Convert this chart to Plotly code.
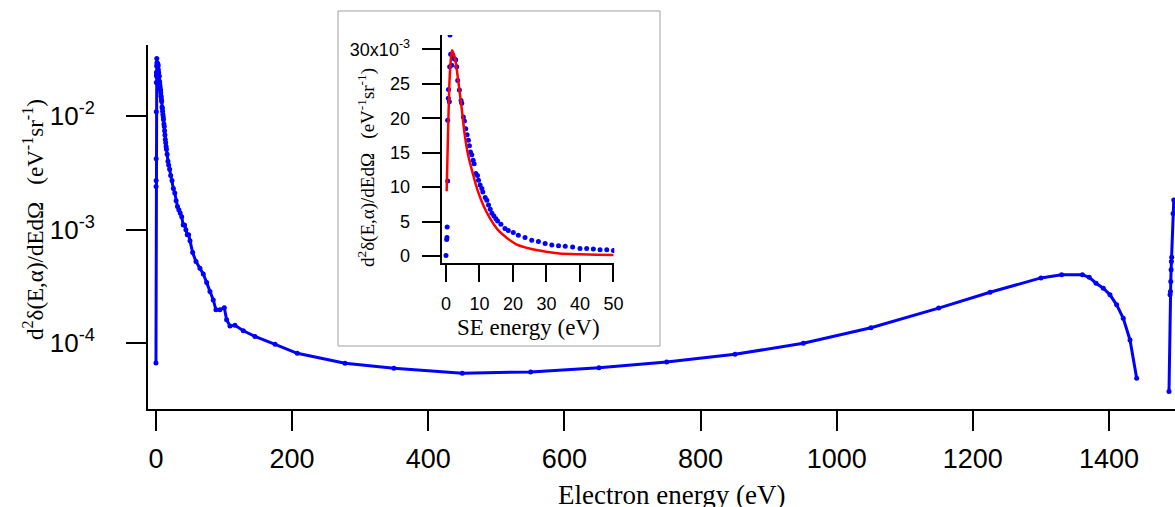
import plotly.graph_objects as go

# ---- Secondary-electron region (0-50 eV), values in units of 1e-3 eV^-1 sr^-1
se_energy = [0.0, 0.2, 0.3, 0.35, 0.5, 0.5, 0.7, 0.75, 1.0, 1.1, 1.2, 1.4, 1.7, 2.0, 2.4, 2.9,
             3.2, 3.5, 4.0, 4.5, 4.7, 5.2, 5.5, 5.9, 6.3, 6.7, 7.0, 7.3, 7.7, 8.1, 8.4,
             8.9, 9.4, 9.7, 10.2, 10.7, 11.0, 11.7, 12.2, 12.7, 13.2, 13.7, 14.3, 14.9,
             15.4, 16.4, 17.6, 18.6, 20.1, 21.6, 23.6, 25.6, 27.6, 29.6, 31.6, 33.6,
             35.6, 37.8, 40.0, 42.0, 44.0, 46.0, 48.0, 50.0]
se_value = [0.067, 2.4, 2.7, 4.2, 10.9, 19.7, 22.9, 24.2, 22.4, 27.5, 32.1, 29.3, 27.7, 29.2,
            28.7, 28.5, 27.5, 25.5, 24.1, 22.6, 22.2, 20.2, 19.6, 18.5, 17.6, 16.8, 16.0,
            15.1, 14.7, 13.9, 13.4, 12.0, 11.7, 11.0, 10.3, 9.8, 9.3, 8.5, 8.1, 7.4, 6.8,
            6.2, 5.8, 5.4, 5.1, 4.6, 4.0, 3.7, 3.4, 3.0, 2.7, 2.3, 2.1, 1.8, 1.6, 1.5,
            1.4, 1.3, 1.1, 1.1, 1.0, 0.9, 0.9, 0.8]

# ---- Fit curve shown in the inset (units of 1e-3)
fit_energy = [0.2, 0.6, 1.0, 1.4, 1.8, 2.7, 3.7, 4.7, 5.6, 6.6, 8.1, 9.6, 11.1, 13.1, 15.5,
              18.0, 21.0, 24.9, 29.9, 33.8, 40.0, 45.0, 50.0]
fit_value = [9.4, 17.6, 24.8, 28.3, 29.9, 28.7, 25.3, 21.4, 17.6, 14.7, 11.8, 9.3, 7.4, 5.5,
             3.8, 2.7, 1.7, 1.1, 0.63, 0.38, 0.26, 0.2, 0.15]

# ---- Higher-energy part of the spectrum (eV^-1 sr^-1)
hi_energy = [53.9, 58.8, 64.6, 69.5, 74.5, 79.3, 84.2, 88.1, 94.0, 100.4, 103.8, 108.7,
             116.0, 128.3, 145.4, 175.0, 207.6, 277.7, 349.6, 450.0, 550.4, 650.8, 750.2,
             850.6, 951.0, 1050.4, 1149.8, 1225.2, 1300.0, 1330.5, 1361.0, 1371.0, 1381.0,
             1391.7, 1401.5, 1411.3, 1421.0, 1430.9, 1440.7]
hi_value = [6.28e-4, 5.24e-4, 4.57e-4, 4.07e-4, 3.42e-4, 2.85e-4, 2.41e-4, 1.97e-4, 1.97e-4,
            2.06e-4, 1.61e-4, 1.42e-4, 1.44e-4, 1.29e-4, 1.15e-4, 9.8e-5, 8.17e-5, 6.68e-5,
            6.04e-5, 5.46e-5, 5.6e-5, 6.1e-5, 6.86e-5, 8.0e-5, 1.0e-4, 1.37e-4, 2.04e-4,
            2.81e-4, 3.76e-4, 4.0e-4, 4.0e-4, 3.81e-4, 3.38e-4, 3.05e-4, 2.67e-4, 2.18e-4,
            1.66e-4, 1.07e-4, 4.93e-5]

# ---- Elastic-peak onset at the right edge
el_energy = [1488.2, 1489.7, 1490.3, 1490.8, 1491.3, 1491.7, 1492.2, 1494.2, 1495.2]
el_value = [3.76e-5, 2.67e-4, 2.85e-4, 3.49e-4, 4.43e-4, 5.24e-4, 5.71e-4, 1.39e-3, 1.82e-3]

x_ticks = [0, 200, 400, 600, 800, 1000, 1200, 1400]
y_ticks = [1e-4, 1e-3, 1e-2]
y_ticktext = ["10<sup>-4</sup>", "10<sup>-3</sup>", "10<sup>-2</sup>"]
inset_x_ticks = [0, 10, 20, 30, 40, 50]
inset_y_ticks = [0, 5, 10, 15, 20, 25, 30]
inset_y_ticktext = ["0", "5", "10", "15", "20", "25", "30x10<sup>-3</sup>"]

BLUE = "#0000ff"
RED = "#ff0000"
SANS = "Liberation Sans, Arial, sans-serif"
SERIF = "Liberation Serif, Times New Roman, serif"

main_E = se_energy + hi_energy
main_V = [v * 1e-3 for v in se_value] + hi_value

fig = go.Figure()
fig.add_trace(go.Scatter(x=main_E, y=main_V, mode="lines+markers",
                         line=dict(color=BLUE, width=3), marker=dict(color=BLUE, size=5),
                         xaxis="x", yaxis="y", showlegend=False))
fig.add_trace(go.Scatter(x=el_energy, y=el_value, mode="lines+markers",
                         line=dict(color=BLUE, width=3), marker=dict(color=BLUE, size=5),
                         xaxis="x", yaxis="y", showlegend=False))
fig.add_trace(go.Scatter(x=se_energy, y=se_value, mode="markers",
                         marker=dict(color=BLUE, size=5),
                         xaxis="x2", yaxis="y2", showlegend=False))
fig.add_trace(go.Scatter(x=fit_energy, y=fit_value, mode="lines",
                         line=dict(color=RED, width=2.5, shape="spline", smoothing=0.6),
                         xaxis="x2", yaxis="y2", showlegend=False))

W, H = 1175, 507
L, R, T, B = 148, 0, 10, 98
pw, ph = W - L - R, H - T - B


def px(xp):
    return (xp - L) / pw


def py(yp):
    return (H - B - yp) / ph


common = dict(showline=True, linecolor="black", linewidth=2, showgrid=False,
              zeroline=False, ticks="outside", tickwidth=2, tickcolor="black",
              automargin=False)

fig.update_layout(
    width=W, height=H,
    margin=dict(l=L, r=R, t=T, b=B, pad=0, autoexpand=False),
    paper_bgcolor="white", plot_bgcolor="rgba(0,0,0,0)",
    showlegend=False,
    xaxis=dict(domain=[0, 1], range=[-11.7, 1497], anchor="y", ticklen=20,
               tickvals=x_ticks, ticklabelstandoff=5,
               tickfont=dict(family=SANS, size=27, color="black"), **common),
    yaxis=dict(domain=[0, py(45)], type="log", range=[-4.578, -1.3755], anchor="x",
               ticklen=20, tickvals=y_ticks, ticktext=y_ticktext, ticklabelstandoff=26,
               tickfont=dict(family=SANS, size=26, color="black"), **common),
    xaxis2=dict(domain=[px(441.7), px(614.3)], range=[-1.28, 50.25], anchor="y2",
                ticklen=17, tickvals=inset_x_ticks, ticklabelstandoff=6,
                tickfont=dict(family=SANS, size=18, color="black"), **common),
    yaxis2=dict(domain=[py(263.3), py(35)], range=[-1.06, 32.1], anchor="x2",
                ticklen=18, tickvals=inset_y_ticks, ticktext=inset_y_ticktext,
                ticklabelstandoff=8,
                tickfont=dict(family=SANS, size=18, color="black"), **common),
    shapes=[dict(type="rect", xref="paper", yref="paper",
                 x0=px(338), x1=px(660), y0=py(346), y1=py(11),
                 line=dict(color="#a0a0a0", width=1), fillcolor="white", layer="below")],
    annotations=[
        dict(text="d<sup>2</sup>δ(E,α)/dEdΩ   (eV<sup>-1</sup>sr<sup>-1</sup>)",
             xref="paper", yref="paper", x=px(33), y=py(220), textangle=-90,
             xanchor="center", yanchor="middle", showarrow=False,
             font=dict(family=SERIF, size=23, color="black")),
        dict(text="Electron energy (eV)", xref="paper", yref="paper",
             x=px(671), y=py(495), xanchor="center", yanchor="middle", showarrow=False,
             font=dict(family=SERIF, size=27, color="black")),
        dict(text="SE energy (eV)", xref="paper", yref="paper",
             x=px(528), y=py(327), xanchor="center", yanchor="middle", showarrow=False,
             font=dict(family=SERIF, size=23, color="black")),
        dict(text="d<sup>2</sup>δ(E,α)/dEdΩ   (eV<sup>-1</sup>sr<sup>-1</sup>)",
             xref="paper", yref="paper", x=px(366), y=py(168), textangle=-90,
             xanchor="center", yanchor="middle", showarrow=False,
             font=dict(family=SERIF, size=19, color="black")),
    ],
)

fig.write_html("out.html", config={"displayModeBar": False},
               post_script="document.body.style.margin='0';"
                           "document.body.style.overflow='hidden';")
